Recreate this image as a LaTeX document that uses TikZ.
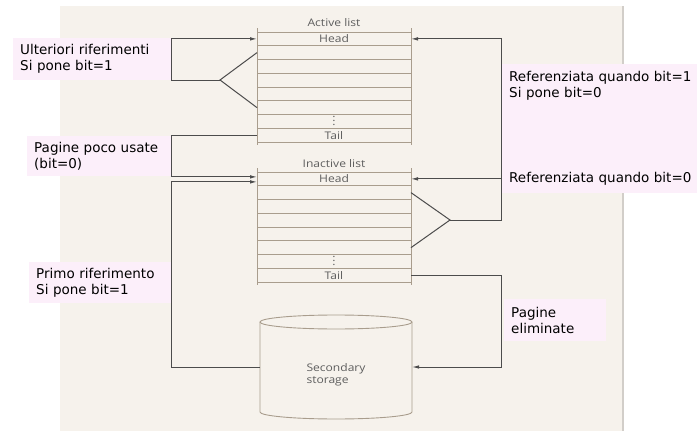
\documentclass[tikz,border=0pt]{standalone}
\usepackage{fontspec}
\setmainfont{DejaVu Sans}
\newfontfamily\listfont[FakeStretch=1.15]{Open Sans}
\usetikzlibrary{arrows.meta,calc}

\definecolor{paper}{HTML}{F6F2EC}
\definecolor{papershade}{HTML}{D2CEC9}
\definecolor{notepink}{HTML}{FCEFFA}
\definecolor{rulecol}{HTML}{A99D8D}
\definecolor{wirecol}{HTML}{4C4C4C}
\definecolor{figtext}{HTML}{5E5E5E}

% vertical ellipsis that keeps the row height unchanged
\newcommand{\rowdots}{\smash{\raisebox{-4.5pt}{$\vdots$}}}

\begin{document}
\begin{tikzpicture}[x=1pt,y=-1pt,
  listtext/.style={font=\listfont\fontsize{10.5}{12}\selectfont, text=figtext, inner sep=0pt},
  row/.style={listtext, draw=rulecol, line width=0.9pt, minimum width=154pt,
    minimum height=13.75pt, outer sep=0pt},
  railline/.style={draw=rulecol, line width=0.9pt},
  wire/.style={draw=wirecol, line width=1pt},
  arr/.style={wire, -{Latex[length=7pt,width=3.5pt]}},
  note/.style={fill=notepink, anchor=north west, inner xsep=7pt, inner ysep=0pt,
    align=left, font=\fontsize{13.5}{16}\selectfont, text=black}
]
\useasboundingbox (0,0) rectangle (697,431);
\fill[white] (0,0) rectangle (697,431);

% sheet behind the figure
\fill[paper] (60,6) rectangle (622,431);
\draw[papershade, line width=2pt] (623,6) -- (623,431);

% annotation boxes
\node[note, minimum width=158pt, minimum height=42pt, text width=144pt] (n1) at (13,38)
  {Ulteriori riferimenti\\Si pone bit=1};
\node[note, minimum width=144pt, minimum height=40pt, text width=130pt] (n2) at (27,136)
  {Pagine poco usate\\(bit=0)};
\node[note, minimum height=129pt, text width=184pt] (n3) at (502,64)
  {Referenziata quando bit=1\\Si pone bit=0\\[69pt]Referenziata quando bit=0};
\node[note, minimum width=142pt, minimum height=41pt, text width=128pt] (n4) at (29,262)
  {Primo riferimento\\Si pone bit=1};
\node[note, minimum width=102pt, minimum height=42pt, text width=88pt] (n5) at (504,299)
  {Pagine\\eliminate};

% active list
\node[listtext] (atitle) at (334,23) {Active list};
\foreach \k/\t in {1/Head,2/,3/,4/,5/,6/,7/\rowdots,8/Tail}
  \node[row] (a\k) at (334,{32+13.75*(\k-0.5)}) {\t};
\draw[railline] ([yshift=4pt]a1.north west) -- ([yshift=-3pt]a8.south west);
\draw[railline] ([yshift=4pt]a1.north east) -- ([yshift=-3pt]a8.south east);

% inactive list
\node[listtext] (ititle) at (334,164) {Inactive list};
\foreach \k/\t in {1/Head,2/,3/,4/,5/,6/,7/\rowdots,8/Tail}
  \node[row] (i\k) at (334,{172+13.75*(\k-0.5)}) {\t};
\draw[railline] ([yshift=4pt]i1.north west) -- ([yshift=-3pt]i8.south west);
\draw[railline] ([yshift=4pt]i1.north east) -- ([yshift=-3pt]i8.south east);

% secondary storage cylinder
\node[minimum width=152pt, minimum height=104pt, inner sep=0pt, outer sep=0pt] (store) at (336,367) {};
\draw[railline] ([yshift=-7pt]store.north west) -- ([yshift=7pt]store.south west)
  arc[start angle=180, end angle=360, x radius=76pt, y radius=7pt]
  -- ([yshift=-7pt]store.north east);
\draw[railline] ([yshift=-7pt]store.north) ellipse[x radius=76pt, y radius=7pt];
\node[listtext, align=left] (storetxt) at ([yshift=-8pt]store.center) {Secondary\\storage};

% connector rails
\coordinate (lrail) at (171,0);
\coordinate (rrail) at (501,0);
\coordinate (ajoin) at (220,80);
\coordinate (ijoin) at (450,220);

% further references: back to the active head
\draw[wire] (a2.west) -- (ajoin) -- (a6.west);
\draw[arr] (ajoin) -- (ajoin -| lrail) |- (a1.west);

% little-used pages: active tail to inactive head
\draw[arr] (a8.west) -- (a8.west -| lrail) |- ([yshift=2pt]i1.west);

% first reference: storage to inactive head
\draw[arr] (store.west) -- (store.west -| lrail) |- ([yshift=-3pt]i1.west);

% referenced with bit=1: inactive list to active head
\draw[wire] (i2.east) -- (ijoin) -- (i6.east);
\draw[arr] (ijoin) -- (ijoin -| rrail) |- (a1.east);

% referenced with bit=0: back to inactive head
\draw[arr] (i1.east -| rrail) -- (i1.east);

% evicted pages: inactive tail to storage
\draw[arr] (i8.east) -- (i8.east -| rrail) |- (store.east);
\end{tikzpicture}
\end{document}
